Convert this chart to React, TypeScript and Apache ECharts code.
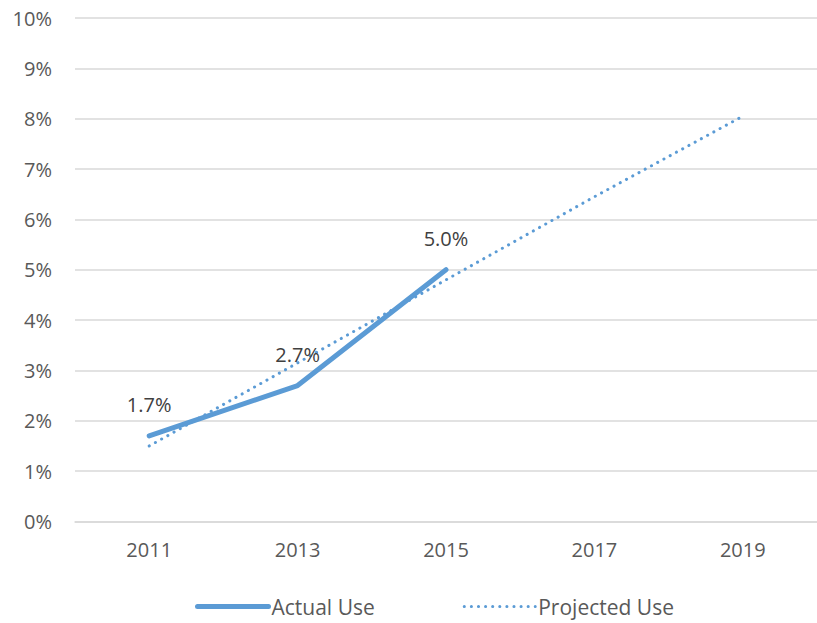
import React, { useEffect, useRef } from "react";
import * as echarts from "echarts";

const years = ["2011", "2013", "2015", "2017", "2019"];
const actualUse = [1.7, 2.7, 5.0, null, null];
const projectedUse = [1.5, 3.15, 4.8, 6.45, 8.05];
const yTicks = [0, 1, 2, 3, 4, 5, 6, 7, 8, 9, 10];

const FONT = "Open Sans";
const BLUE = "#5B9BD5";

export default function App() {
  const ref = useRef<HTMLDivElement>(null);
  useEffect(() => {
    const chart = echarts.init(ref.current!, null, { renderer: "svg" });
    chart.setOption({
      animation: false,
      textStyle: { fontFamily: FONT },
      grid: { left: 75, top: 18, width: 747, height: 503.5, containLabel: false },
      xAxis: {
        type: "category",
        data: years,
        axisLine: { show: true, lineStyle: { color: "#D9D9D9", width: 1.5 } },
        axisTick: { show: false },
        axisLabel: { color: "#595959", fontSize: 20, fontFamily: FONT, margin: 18 },
      },
      yAxis: {
        type: "value",
        min: yTicks[0],
        max: yTicks[yTicks.length - 1],
        interval: 1,
        axisLine: { show: false },
        axisTick: { show: false },
        splitLine: { lineStyle: { color: "#D9D9D9", width: 1.5 } },
        axisLabel: { color: "#595959", fontSize: 20, fontFamily: FONT, margin: 23, formatter: "{value}%" },
      },
      legend: {
        bottom: 1,
        left: 190,
        itemWidth: 71,
        itemHeight: 14,
        itemGap: 88,
        itemStyle: { opacity: 0 },
        textStyle: { color: "#595959", fontSize: 21, fontFamily: FONT, padding: [0, 0, 0, -2] },
        data: [
          { name: "Actual Use", lineStyle: { width: 5 } },
          { name: "Projected Use", lineStyle: { width: 3 } },
        ],
      },
      series: [
        {
          name: "Actual Use",
          type: "line",
          data: actualUse,
          symbol: "circle",
          symbolSize: 1,
          showSymbol: true,
          z: 3,
          lineStyle: { color: BLUE, width: 5, cap: "round", join: "round" },
          itemStyle: { color: BLUE },
          label: {
            show: true,
            position: "top",
            distance: 21,
            color: "#404040",
            fontSize: 20,
            fontFamily: FONT,
            formatter: (p: any) => (p.value == null ? "" : Number(p.value).toFixed(1) + "%"),
          },
        },
        {
          name: "Projected Use",
          type: "line",
          data: projectedUse,
          symbol: "none",
          z: 2,
          lineStyle: { color: BLUE, width: 3, type: [0.1, 7], cap: "round" },
          itemStyle: { color: BLUE },
        },
      ],
    });
    return () => chart.dispose();
  }, []);
  return <div ref={ref} style={{ width: 817, height: 623, position: "absolute", left: 0, top: 0 }} />;
}
